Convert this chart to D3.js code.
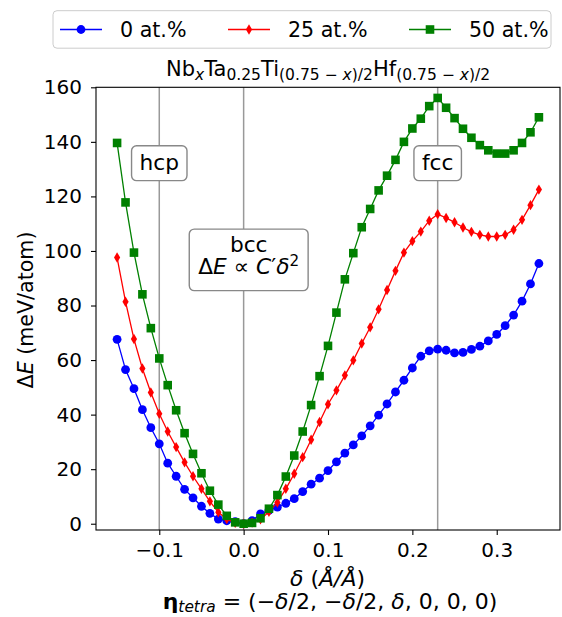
<!DOCTYPE html>
<html lang="en">
<head>
<meta charset="UTF-8">
<script src="https://d3js.org/d3.v7.min.js"></script>
<style>
  body { margin: 0; background: #fff; }
  svg text { font-family: "DejaVu Sans", sans-serif; fill: #000; white-space: pre; }
</style>
</head>
<body>
<div id="fig"></div>
<script>
// strain delta (A/A)
const delta = [-0.15, -0.14, -0.13, -0.12, -0.11, -0.10, -0.09, -0.08, -0.07, -0.06,
  -0.05, -0.04, -0.03, -0.02, -0.01, 0.00, 0.01, 0.02, 0.03, 0.04,
  0.05, 0.06, 0.07, 0.08, 0.09, 0.10, 0.11, 0.12, 0.13, 0.14,
  0.15, 0.16, 0.17, 0.18, 0.19, 0.20, 0.21, 0.22, 0.23, 0.24,
  0.25, 0.26, 0.27, 0.28, 0.29, 0.30, 0.31, 0.32, 0.33, 0.34, 0.35];

// energy (meV/atom) for each Nb content
const e0 = [67.6, 56.5, 49.5, 41.8, 35.2, 29.3, 22.2, 17.4, 12.6, 9.5,
  6.4, 3.8, 1.7, 1.1, 0.8, 0.0, 1.1, 3.6, 4.9, 6.1,
  7.5, 9.2, 11.8, 14.5, 16.7, 19.5, 22.7, 25.9, 28.9, 32.2,
  35.9, 39.8, 43.9, 48.3, 52.6, 57.1, 61.4, 63.4, 64.0, 63.6,
  62.6, 62.8, 63.9, 65.1, 67.0, 69.4, 72.6, 76.5, 81.6, 87.9, 95.4];
const e25 = [97.6, 81.4, 67.7, 56.9, 48.1, 40.3, 33.8, 28.1, 22.5, 17.4,
  12.8, 8.2, 4.2, 1.7, 0.3, 0.0, 0.4, 1.6, 4.4, 7.8,
  12.8, 18.3, 24.4, 30.8, 37.3, 43.8, 48.9, 54.4, 59.9, 66.1,
  72.0, 78.6, 85.7, 92.7, 99.4, 103.6, 107.1, 111.1, 113.5, 112.1,
  110.5, 108.6, 107.0, 105.9, 105.3, 105.3, 105.9, 107.8, 111.4, 116.8, 122.5];
const e50 = [139.6, 117.8, 99.4, 84.1, 71.7, 60.6, 50.8, 41.6, 33.2, 25.6,
  18.5, 12.1, 7.0, 2.9, 0.5, 0.0, 0.3, 2.0, 5.5, 10.5,
  17.3, 25.0, 33.8, 43.5, 54.1, 65.2, 77.4, 89.6, 99.2, 108.7,
  115.4, 122.2, 127.6, 133.4, 140.0, 144.9, 148.5, 153.1, 156.1, 152.5,
  148.7, 144.8, 141.5, 138.8, 136.9, 135.7, 135.7, 136.9, 139.6, 143.5, 149.0];

const seriesNames = ["0 at.%", "25 at.%", "50 at.%"];
const xTicks = [-0.1, 0.0, 0.1, 0.2, 0.3];
const yTicks = [0, 20, 40, 60, 80, 100, 120, 140, 160];
const phaseX = [-0.1, 0.0, 0.23];

const W = 562, H = 617;
const FS = 20.6;      // labels / legend
const TICK_FS = 20;
const NOTE_FS = 21.7;

const x = d3.scaleLinear().domain([-0.175, 0.375]).range([96, 560]);
const y = d3.scaleLinear().domain([-2.3, 160]).range([530, 87.3]);

const svg = d3.select("#fig").append("svg")
  .attr("width", W).attr("height", H);

// mathtext-ish helper: parts are [text, "flags"] with flags i / b / sub / sup
function rich(t, parts, size, opt = {}) {
  const subScale = opt.subScale || 0.7, drop = opt.drop || size * 0.22;
  let shift = 0;
  parts.forEach(([s, k]) => {
    const f = k.split(" ");
    const ts = t.append("tspan").text(s);
    let target = 0;
    if (f.includes("sub")) target = drop;
    if (f.includes("sup")) target = -size * 0.38;
    if (target - shift !== 0) ts.attr("dy", target - shift);
    shift = target;
    if (f.includes("sub") || f.includes("sup")) ts.attr("font-size", size * subScale);
    if (f.includes("i")) ts.attr("font-style", "italic");
    if (f.includes("b")) ts.attr("font-weight", "bold");
  });
  return t;
}

// phase reference lines
svg.append("g").selectAll("line")
  .data(phaseX)
  .enter().append("line")
  .attr("x1", d => x(d)).attr("x2", d => x(d))
  .attr("y1", y.range()[0]).attr("y2", y.range()[1])
  .attr("stroke", "#999").attr("stroke-width", 1.5);

// annotation boxes, pad = [top, right, bottom, left]
function note(cx, lines, baselines, pad) {
  const g = svg.append("g");
  lines.forEach((parts, i) =>
    rich(g.append("text").attr("x", cx).attr("y", baselines[i])
      .attr("text-anchor", "middle").attr("font-size", NOTE_FS), parts, NOTE_FS));
  const bb = g.node().getBBox();
  g.insert("rect", "text")
    .attr("x", bb.x - pad[3]).attr("y", bb.y - pad[0])
    .attr("width", bb.width + pad[1] + pad[3])
    .attr("height", bb.height + pad[0] + pad[2])
    .attr("rx", 5).attr("fill", "#fff")
    .attr("stroke", "#888").attr("stroke-width", 1.4);
}
note(x(-0.1), [[["hcp", ""]]], [170], [4.2, 8, 5.6, 8]);
note(x(0.23), [[["fcc", ""]]], [170], [4.2, 8, 5.6, 8]);
note(x(0.006), [[["bcc", ""]],
  [["Δ", ""], ["E", "i"], [" ∝ ", ""], ["C", "i"], ["′", ""], ["δ", "i"], ["2", "sup"]]],
  [251.7, 274], [2.6, 9, 11.6, 9]);

// axes
const xAxis = svg.append("g")
  .attr("transform", `translate(0,${y.range()[0]})`)
  .call(d3.axisBottom(x).tickValues(xTicks).tickSize(5).tickPadding(8)
    .tickFormat(d => d3.format(".1f")(d).replace("-", "−")));
const yAxis = svg.append("g")
  .attr("transform", `translate(${x.range()[0]},0)`)
  .call(d3.axisLeft(y).tickValues(yTicks).tickSize(5).tickPadding(9));
[xAxis, yAxis].forEach(a => {
  a.selectAll("text").attr("font-size", TICK_FS).attr("font-family", "DejaVu Sans").attr("fill", "#000");
  a.selectAll("line").attr("stroke", "#000").attr("stroke-width", 1.1);
  a.select(".domain").remove();
});
svg.append("rect")
  .attr("x", x.range()[0]).attr("y", y.range()[1])
  .attr("width", x.range()[1] - x.range()[0])
  .attr("height", y.range()[0] - y.range()[1])
  .attr("fill", "none").attr("stroke", "#000").attr("stroke-width", 1.1);

// series
const colors = ["#0000ff", "#ff0000", "#008000"];
const shapes = [
  d3.symbol().type(d3.symbolCircle).size(Math.PI * 4.4 * 4.4),
  () => "M0,-5.2L3.1,0L0,5.2L-3.1,0Z",
  d3.symbol().type(d3.symbolSquare).size(8.6 * 8.6)
];
const series = [e0, e25, e50];
const line = d3.line().x(d => x(d[0])).y(d => y(d[1]));

series.forEach((vals, s) => {
  const pts = delta.map((d, i) => [d, vals[i]]);
  const g = svg.append("g");
  g.append("path").datum(pts).attr("d", line)
    .attr("fill", "none").attr("stroke", colors[s]).attr("stroke-width", 1.3);
  g.selectAll("path.m").data(pts).enter().append("path").attr("class", "m")
    .attr("transform", d => `translate(${x(d[0])},${y(d[1])})`)
    .attr("d", shapes[s]).attr("fill", colors[s]);
});

// title
rich(svg.append("text").attr("x", 328).attr("y", 76)
  .attr("text-anchor", "middle").attr("font-size", 21),
  [["Nb", ""], ["x", "sub i"], ["Ta", ""], ["0.25", "sub"], ["Ti", ""],
   ["(0.75 − ", "sub"], ["x", "sub i"], [")/2", "sub"], ["Hf", ""],
   ["(0.75 − ", "sub"], ["x", "sub i"], [")/2", "sub"]], 21, {subScale: 0.74, drop: 3.5});

// axis labels
rich(svg.append("text").attr("transform", "translate(33,310) rotate(-90)")
  .attr("text-anchor", "middle").attr("font-size", FS),
  [["Δ", ""], ["E", "i"], [" (meV/atom)", ""]], FS);
rich(svg.append("text").attr("x", 327.5).attr("y", 586)
  .attr("text-anchor", "middle").attr("font-size", 22),
  [["δ", "i"], [" (", ""], ["Å/Å", "i"], [")", ""]], 22);
rich(svg.append("text").attr("x", 330).attr("y", 609)
  .attr("text-anchor", "middle").attr("font-size", 22),
  [["η", "b"], ["tetra", "sub i"], [" = (−", ""], ["δ", "i"], ["/2, −", ""],
   ["δ", "i"], ["/2, ", ""], ["δ", "i"], [", 0, 0, 0)", ""]], 22, {drop: 3});

// legend
const leg = svg.append("g");
leg.append("rect").attr("x", 53).attr("y", 10.7).attr("width", 498).attr("height", 37.5)
  .attr("rx", 4).attr("fill", "#fff").attr("fill-opacity", 0.8)
  .attr("stroke", "#ccc").attr("stroke-width", 1);
const legX = [60, 228, 409];
seriesNames.forEach((name, s) => {
  const g = leg.append("g").attr("transform", `translate(${legX[s]},29.5)`);
  g.append("line").attr("x1", 0).attr("x2", 42)
    .attr("stroke", colors[s]).attr("stroke-width", 1.3);
  g.append("path").attr("transform", "translate(21,0)").attr("d", shapes[s]).attr("fill", colors[s]);
  g.append("text").attr("x", 60).attr("y", 7).attr("font-size", FS).text(name);
});
</script>
</body>
</html>
